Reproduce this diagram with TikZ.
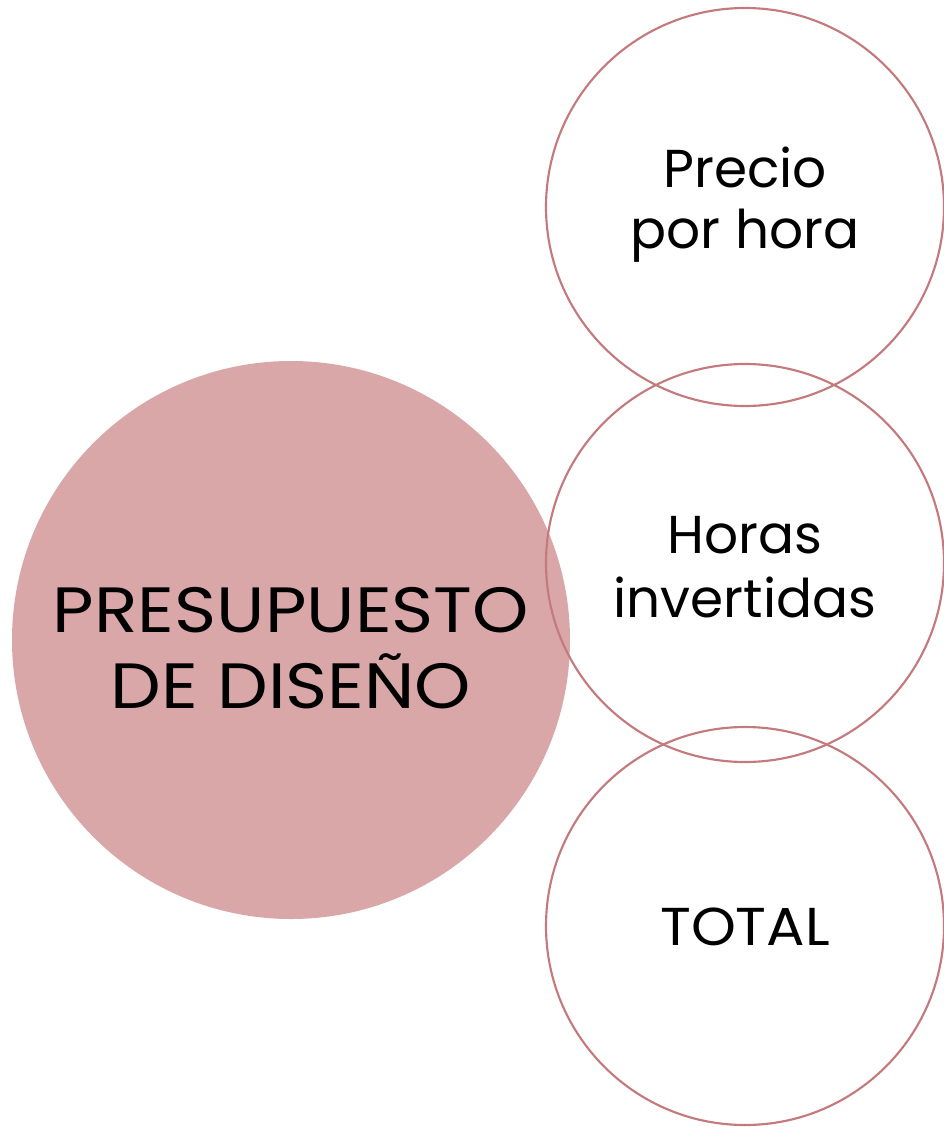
\documentclass[tikz,border=0pt]{standalone}
\usepackage{fontspec}
\setmainfont{Poppins}
\newfontfamily\widefont[FakeStretch=1.12]{Poppins}
\newfontfamily\semiwidefont[FakeStretch=1.07]{Poppins}
\definecolor{rosefill}{HTML}{D9A7A8}
\definecolor{rosedraw}{HTML}{C47A7C}
\begin{document}
\begin{tikzpicture}[x=0.75pt,y=-0.75pt,
  bigc/.style={circle,fill=rosefill,draw=none,minimum size=558*0.75pt,inner sep=0pt},
  smallc/.style={circle,draw=rosedraw,line width=1.6pt,minimum size=398*0.75pt,inner sep=0pt},
  lbl/.style={anchor=base,inner sep=0pt,text=black}]
\useasboundingbox (0,0) rectangle (943,1127);
\node[bigc] (big) at (291,640) {};
\node[smallc] (c1) at (745,207) {};
\node[smallc] (c2) at (745,563) {};
\node[smallc] (c3) at (745,926) {};
\node[lbl,font=\widefont\fontsize{48}{57}\selectfont] (b1) at (291,632) {PRESUPUESTO};
\node[lbl,font=\widefont\fontsize{48}{57}\selectfont] (b2) at (291,708) {DE DISEÑO};
\node[lbl,font=\fontsize{40}{48}\selectfont] (p1) at (745,187) {Precio};
\node[lbl,font=\fontsize{40}{48}\selectfont] (p2) at (745,248) {por hora};
\node[lbl,font=\fontsize{40}{48}\selectfont] (h1) at (745,553) {Horas};
\node[lbl,font=\fontsize{40}{48}\selectfont] (h2) at (745,617) {invertidas};
\node[lbl,font=\semiwidefont\fontsize{40}{48}\selectfont] (t1) at (745,945) {TOTAL};
\end{tikzpicture}
\end{document}
